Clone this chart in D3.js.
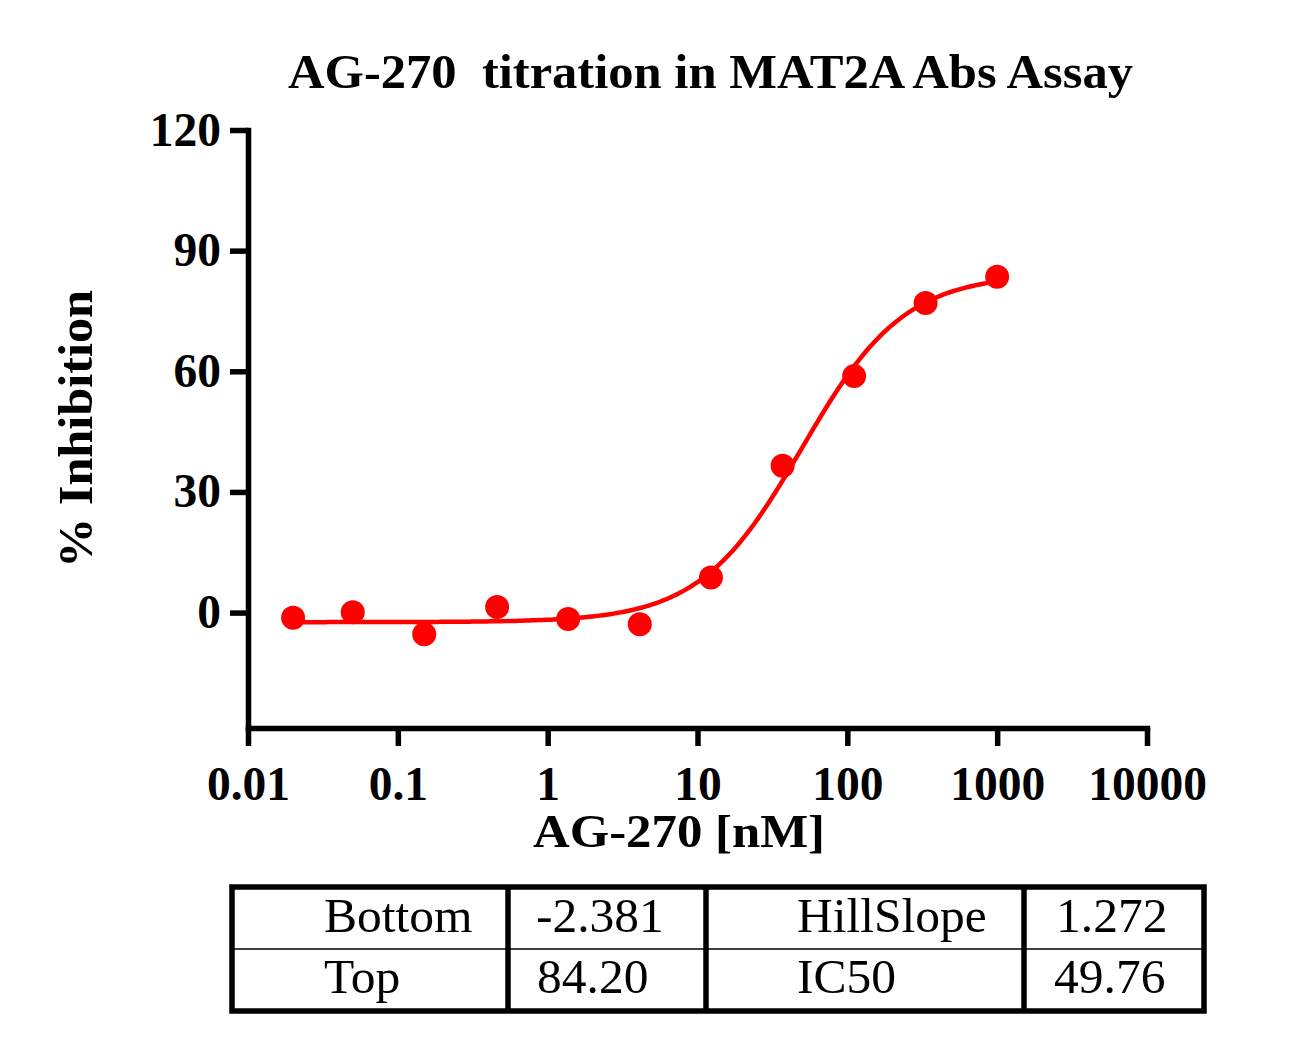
<!DOCTYPE html>
<html><head><meta charset="utf-8">
<script src="https://cdn.jsdelivr.net/npm/d3@7"></script>
<style>
html,body{margin:0;padding:0;background:#fff;}
svg{display:block;}
text{font-family:"Liberation Serif","Times New Roman",serif;fill:#000;}
</style></head>
<body>
<svg id="chart" width="1299" height="1043"></svg>
<script>
// ---- data ----
const concentrations = [0.02, 0.05, 0.15, 0.46, 1.37, 4.12, 12.3, 37, 111, 333, 1000];
const inhibition = [-1.3, 0.1, -5.4, 1.4, -1.6, -2.9, 8.7, 36.5, 58.8, 77.0, 83.5];
const xTicks = [0.01, 0.1, 1, 10, 100, 1000, 10000];
const xTickLabels = ["0.01", "0.1", "1", "10", "100", "1000", "10000"];
const yTicks = [0, 30, 60, 90, 120];
const yTickLabels = ["0", "30", "60", "90", "120"];
const fitNames = ["Bottom", "Top", "HillSlope", "IC50"];
const fitValues = [-2.381, 84.20, 1.272, 49.76];
const fitLabels = ["-2.381", "84.20", "1.272", "49.76"];
const titleText = "AG-270  titration in MAT2A Abs Assay";
const xTitle = "AG-270 [nM]";
const yTitle = "% Inhibition";

// ---- layout ----
const svg = d3.select("#chart");
const x = d3.scaleLog().domain([0.01, 10000]).range([248, 1147]);
const y = d3.scaleLinear().domain([-28.7, 120]).range([728, 130]);
const red = "#ff0000";

// curve (4PL from fit parameters shown in the table)
const fBottom = fitValues[0], fTop = fitValues[1], fHill = fitValues[2], fIC50 = fitValues[3];
const lx0 = Math.log10(d3.min(concentrations)), lx1 = Math.log10(d3.max(concentrations));
const curvePts = d3.range(0, 201).map(i => {
  const c = Math.pow(10, lx0 + (lx1 - lx0) * i / 200);
  return [c, fBottom + (fTop - fBottom) / (1 + Math.pow(fIC50 / c, fHill))];
});
svg.append("path")
  .datum(curvePts)
  .attr("fill", "none").attr("stroke", red).attr("stroke-width", 4.5)
  .attr("d", d3.line().x(d => x(d[0])).y(d => y(d[1])));

svg.append("g").selectAll("circle")
  .data(concentrations.map((c, i) => [c, inhibition[i]]))
  .join("circle")
  .attr("cx", d => x(d[0])).attr("cy", d => y(d[1])).attr("r", 12)
  .attr("fill", red);

// axes
const yAxis = svg.append("g").attr("transform", "translate(248,0)")
  .call(d3.axisLeft(y).tickValues(yTicks).tickFormat((d, i) => yTickLabels[i])
    .tickSize(18).tickSizeOuter(0).tickPadding(9));
const xAxis = svg.append("g").attr("transform", "translate(0,728)")
  .call(d3.axisBottom(x).tickValues(xTicks).tickFormat((d, i) => xTickLabels[i])
    .tickSize(18).tickSizeOuter(0).tickPadding(9));
[yAxis, xAxis].forEach(g => {
  g.select(".domain").attr("stroke", "#000").attr("stroke-width", 5.5).attr("stroke-linecap", "square");
  g.selectAll(".tick line").attr("stroke", "#000").attr("stroke-width", 5.5);
  g.selectAll(".tick text").attr("font-family", "Liberation Serif, Times New Roman, serif")
    .attr("font-weight", "bold").attr("font-size", 47.5).attr("fill", "#000");
});
yAxis.selectAll(".tick text").attr("dy", 15);
xAxis.selectAll(".tick text").attr("y", 72).attr("dy", 0);

// titles
svg.append("text").attr("x", 288).attr("y", 88)
  .attr("font-size", 48).attr("font-weight", "bold")
  .attr("textLength", 845).attr("lengthAdjust", "spacingAndGlyphs")
  .style("white-space", "pre").text(titleText);
svg.append("text").attr("x", 533).attr("y", 847)
  .attr("font-size", 47).attr("font-weight", "bold")
  .attr("textLength", 292).attr("lengthAdjust", "spacingAndGlyphs")
  .text(xTitle);
svg.append("text").attr("transform", "translate(92,429) rotate(-90)")
  .attr("text-anchor", "middle")
  .attr("font-size", 49).attr("font-weight", "bold")
  .attr("textLength", 278).attr("lengthAdjust", "spacingAndGlyphs")
  .text(yTitle);

// table
const tbl = svg.append("g");
const tX = [232, 508, 706, 1024, 1204];
const tY = [887, 949, 1011];
tbl.append("rect").attr("x", tX[0]).attr("y", tY[0]).attr("width", tX[4] - tX[0]).attr("height", tY[2] - tY[0])
  .attr("fill", "none").attr("stroke", "#000").attr("stroke-width", 5.5);
[tX[1], tX[2], tX[3]].forEach(cx => tbl.append("line").attr("x1", cx).attr("x2", cx)
  .attr("y1", tY[0]).attr("y2", tY[2]).attr("stroke", "#000").attr("stroke-width", 5.5));
tbl.append("line").attr("x1", tX[0]).attr("x2", tX[4]).attr("y1", tY[1]).attr("y2", tY[1])
  .attr("stroke", "#000").attr("stroke-width", 1.3);
const cells = [
  {t: fitNames[0], x: 324, y: 932}, {t: fitLabels[0], x: 536, y: 932},
  {t: fitNames[2], x: 797, y: 932}, {t: fitLabels[2], x: 1056, y: 932},
  {t: fitNames[1], x: 324, y: 993}, {t: fitLabels[1], x: 537, y: 993},
  {t: fitNames[3], x: 797, y: 993}, {t: fitLabels[3], x: 1054, y: 993}
];
tbl.selectAll("text.cell").data(cells).join("text").attr("class", "cell")
  .attr("x", d => d.x).attr("y", d => d.y).attr("font-size", 49.5).text(d => d.t);
</script>
</body></html>
